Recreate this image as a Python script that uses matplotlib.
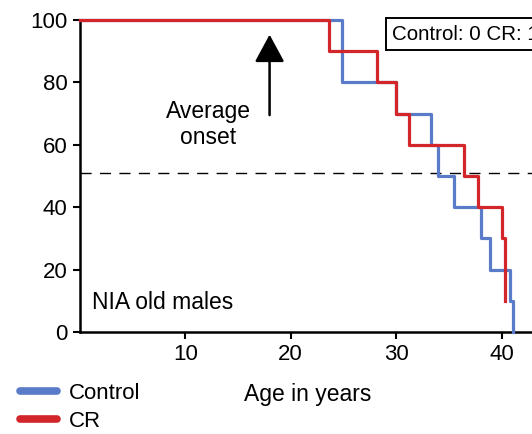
import matplotlib
matplotlib.use("Agg")
import matplotlib.pyplot as plt
from matplotlib.lines import Line2D

plt.rcParams['font.family'] = ['Liberation Sans', 'DejaVu Sans']

# Kaplan-Meier style survival steps (age in years, % surviving)
control_age = [0, 24.9, 30.0, 33.3, 34.0, 35.5, 38.1, 38.9, 40.8, 41.1]
control_surv = [100, 80, 70, 60, 50, 40, 30, 20, 10, 0]
cr_age = [0, 23.6, 28.2, 30.0, 31.2, 36.4, 37.8, 40.0, 40.3]
cr_surv = [100, 90, 80, 70, 60, 50, 40, 30, 10]

median_line = 51
onset_age = 18
x_ticks = [10, 20, 30, 40]
y_ticks = [0, 20, 40, 60, 80, 100]

blue = '#5a7cc8'
red = '#d3262a'

fig = plt.figure(figsize=(5.32, 4.34), dpi=100)
ax = fig.add_axes([0.150, 0.235, 0.872, 0.719])

ax.step(control_age, control_surv, where='post', color=blue, lw=2.3,
        clip_on=False, zorder=3)
ax.step(cr_age, cr_surv, where='post', color=red, lw=2.3,
        clip_on=False, zorder=4)

ax.axhline(median_line, color='black', lw=1.0, dashes=(8, 6), zorder=2)

ax.annotate('', xy=(onset_age, 95.3), xytext=(onset_age, 69.5),
            arrowprops=dict(arrowstyle='-|>,head_width=0.46,head_length=0.85',
                            mutation_scale=20, shrinkA=0, shrinkB=0,
                            color='black', lw=1.8))
ax.text(12.2, 66.5, 'Average\nonset', ha='center', va='center',
        fontsize=16.5, linespacing=1.2)
ax.text(1.2, 9.6, 'NIA old males', fontsize=16.5, va='center')
ax.text(29.6, 95.5, 'Control: 0 CR: 1', fontsize=14.8, va='center',
        bbox=dict(boxstyle='square,pad=0.3', fc='white', ec='black', lw=1.4))

ax.set_xlim(0, 44)
ax.set_ylim(0, 100)
ax.set_xticks(x_ticks)
ax.set_yticks(y_ticks)
ax.tick_params(labelsize=16, width=1.5, length=5, direction='out')
ax.tick_params(axis='y', pad=4)
ax.set_xlabel('Age in years', fontsize=16.5)
ax.xaxis.set_label_coords(0.492, -0.165)

for side in ['top', 'right']:
    ax.spines[side].set_visible(False)
for side in ['left', 'bottom']:
    ax.spines[side].set_linewidth(1.8)

# thick rounded swatches for the legend
handles = [Line2D([], [], color=blue, lw=5.5, solid_capstyle='round'),
           Line2D([], [], color=red, lw=5.5, solid_capstyle='round')]
fig.legend(handles, ['Control', 'CR'], loc='upper left',
           bbox_to_anchor=(0.021, 0.139), frameon=False,
           fontsize=16, handlelength=1.65, handletextpad=0.55,
           labelspacing=0.34, borderaxespad=0)

fig.savefig('out.png', dpi=100)
